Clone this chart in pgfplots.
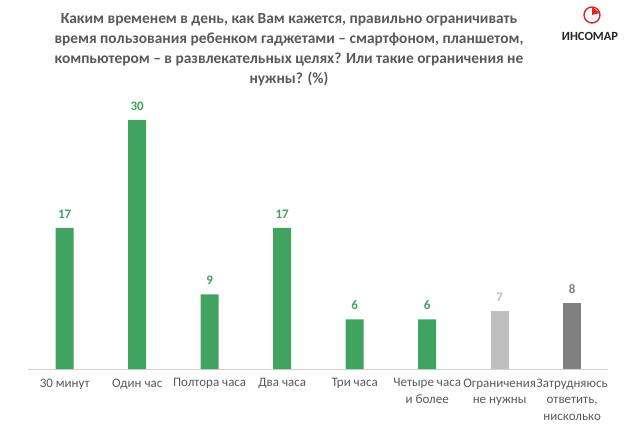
\documentclass[border=0pt]{standalone}
\usepackage{pgfplots}
\pgfplotsset{compat=1.18}
\usepackage{fontspec}
\setmainfont{Carlito}
\definecolor{bgreen}{RGB}{64,163,95}
\definecolor{lgrey}{RGB}{191,191,191}
\definecolor{dgrey}{RGB}{128,128,128}
\definecolor{txt}{RGB}{89,89,89}
\definecolor{logored}{RGB}{226,35,40}
\begin{document}
\begin{tikzpicture}[x=1pt,y=1pt]
\useasboundingbox (0,0) rectangle (628,428);
\begin{axis}[
  at={(39.2,71)}, anchor=south west,
  scale only axis, width=580pt, height=249pt,
  xmin=-0.5, xmax=7.5, ymin=0, ymax=30,
  axis y line=none, axis x line*=bottom,
  x axis line style={draw=lgrey!70, line width=0.8pt, -},
  xtick={0,...,7}, major tick length=0pt,
  xticklabels={30 минут, Один час, Полтора часа, Два часа, Три часа, {Четыре часа\\и более}, {Ограничения\\не нужны}, {Затрудняюсь\\ответить,\\нисколько}},
  xticklabel style={font=\fontsize{13}{16.5}\selectfont, text=txt, align=center, anchor=north, yshift=-6pt},
  ybar, bar width=18pt, bar shift=0pt,
  clip=false,
  nodes near coords,
  /pgf/number format/assume math mode=true,
  every node near coord/.append style={font=\bfseries\fontsize{13}{14}\selectfont, yshift=6pt},
]
\addplot[fill=bgreen, draw=none, nodes near coords style={text=bgreen}] coordinates {(0,17) (1,30) (2,9) (3,17) (4,6) (5,6)};
\addplot[fill=lgrey, draw=none, nodes near coords style={text=lgrey}] coordinates {(6,7)};
\addplot[fill=dgrey, draw=none, nodes near coords style={text=dgrey}] coordinates {(7,8)};
\end{axis}
\node[font=\bfseries\fontsize{15.4}{20}\selectfont, text=txt, align=center] at (289,378.5)
  {Каким временем в день, как  Вам кажется, правильно ограничивать\\время пользования ребенком гаджетами -- смартфоном, планшетом,\\компьютером -- в развлекательных целях? Или такие ограничения не\\нужны? (\%)};
% logo
\draw[logored, line width=1.4pt] (592,413) circle (8);
\fill[logored] (592,413) -- (592,421) -- (600,415) -- cycle;
\node[font=\bfseries\fontsize{12.5}{14}\selectfont, text=black!85] at (590,392) {ИНСОМАР};
\end{tikzpicture}
\end{document}
